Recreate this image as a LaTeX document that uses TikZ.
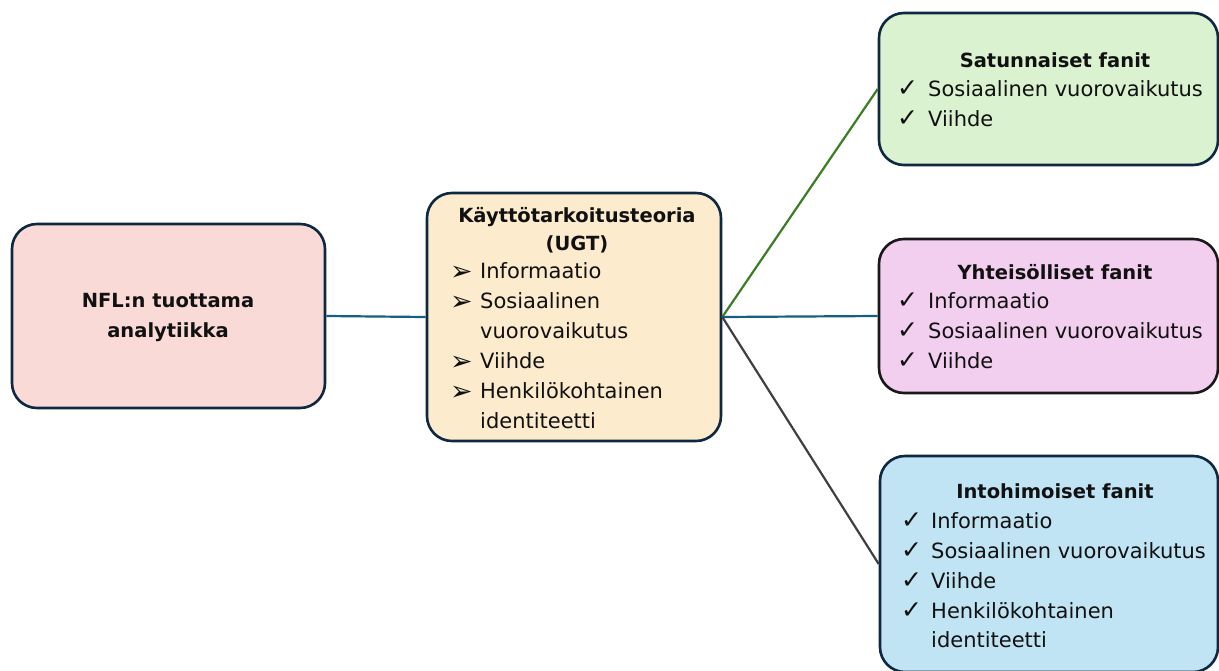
\documentclass[tikz,border=0pt]{standalone}
\usepackage{fontspec}
\setmainfont{DejaVu Sans}
\definecolor{bordc}{HTML}{0E2841}
\definecolor{pinkf}{HTML}{FADAD7}
\definecolor{beigef}{HTML}{FDEBCD}
\definecolor{greenf}{HTML}{DAF2D0}
\definecolor{purplef}{HTML}{F2CEEF}
\definecolor{bluef}{HTML}{C1E4F5}
\definecolor{lineblue}{HTML}{156082}
\definecolor{linegreen}{HTML}{3B7D23}
\definecolor{linegray}{HTML}{404040}
\definecolor{textc}{HTML}{111111}
\begin{document}
\begin{tikzpicture}[x=1pt,y=-1pt,
  box/.style={draw=bordc, line width=2.6pt, rounded corners=25pt, inner sep=0pt},
  conn/.style={line width=2.2pt},
  ttl/.style={anchor=base, inner sep=0pt, text=textc, font=\bfseries\fontsize{19.5}{28}\selectfont},
  txt/.style={anchor=base west, inner sep=0pt, text=textc, font=\fontsize{21}{30}\selectfont},
  chk/.style={anchor=base west, inner sep=0pt, text=textc, font=\fontsize{25}{30}\selectfont},
  arr/.style={anchor=base west, inner sep=0pt, text=textc, font=\fontsize{27}{30}\selectfont}]
\useasboundingbox (0,0) rectangle (1219,670);
\clip (0,0) rectangle (1219,670);
\fill[white] (0,0) rectangle (1219,670);

% boxes
\node[box, fill=pinkf, minimum width=313pt, minimum height=184pt] (nfl) at (168.5,316) {};
\node[box, fill=beigef, minimum width=294pt, minimum height=248pt] (ugt) at (574,317) {};
\node[box, fill=greenf, minimum width=339pt, minimum height=152pt] (sat) at (1048.5,89) {};
\node[box, fill=purplef, draw=black!90, minimum width=339pt, minimum height=154pt] (yht) at (1048.5,316) {};
\node[box, fill=bluef, minimum width=338pt, minimum height=216pt] (int) at (1049,564) {};

% connectors
\draw[conn, lineblue] (nfl.east) -- (ugt.west);
\draw[conn, linegreen] (ugt.east) -- (sat.west);
\draw[conn, lineblue] (ugt.east) -- (yht.west);
\draw[conn, linegray] (ugt.east) -- (int.west);

% box A text
\node[ttl] (a1) at (168,307) {NFL:n tuottama};
\node[ttl] (a2) at (168,337) {analytiikka};

% box B text
\node[ttl] (b1) at (577,222) {Käyttötarkoitusteoria};
\node[ttl] (b2) at (577,250) {(UGT)};
\node[arr] (b3a) at (450,280) {➢};
\node[txt] (b3) at (480,278) {Informaatio};
\node[arr] (b4a) at (450,310) {➢};
\node[txt] (b4) at (480,308) {Sosiaalinen};
\node[txt] (b5) at (480,338) {vuorovaikutus};
\node[arr] (b6a) at (450,370) {➢};
\node[txt] (b6) at (480,368) {Viihde};
\node[arr] (b7a) at (450,400) {➢};
\node[txt] (b7) at (480,398) {Henkilökohtainen};
\node[txt] (b8) at (480,428) {identiteetti};

% box C text
\node[ttl] (c1) at (1055,67) {Satunnaiset fanit};
\node[chk] (c2a) at (897,96) {✓};
\node[txt] (c2) at (928,96) {Sosiaalinen vuorovaikutus};
\node[chk] (c3a) at (897,126) {✓};
\node[txt] (c3) at (928,126) {Viihde};

% box D text
\node[ttl] (d1) at (1055,279) {Yhteisölliset fanit};
\node[chk] (d2a) at (897,308) {✓};
\node[txt] (d2) at (928,308) {Informaatio};
\node[chk] (d3a) at (897,338) {✓};
\node[txt] (d3) at (928,338) {Sosiaalinen vuorovaikutus};
\node[chk] (d4a) at (897,368) {✓};
\node[txt] (d4) at (928,368) {Viihde};

% box E text
\node[ttl] (e1) at (1055,498) {Intohimoiset fanit};
\node[chk] (e2a) at (901,528) {✓};
\node[txt] (e2) at (931,528) {Informaatio};
\node[chk] (e3a) at (901,558) {✓};
\node[txt] (e3) at (931,558) {Sosiaalinen vuorovaikutus};
\node[chk] (e4a) at (901,588) {✓};
\node[txt] (e4) at (931,588) {Viihde};
\node[chk] (e5a) at (901,618) {✓};
\node[txt] (e5) at (931,618) {Henkilökohtainen};
\node[txt] (e6) at (931,647) {identiteetti};
\end{tikzpicture}
\end{document}
